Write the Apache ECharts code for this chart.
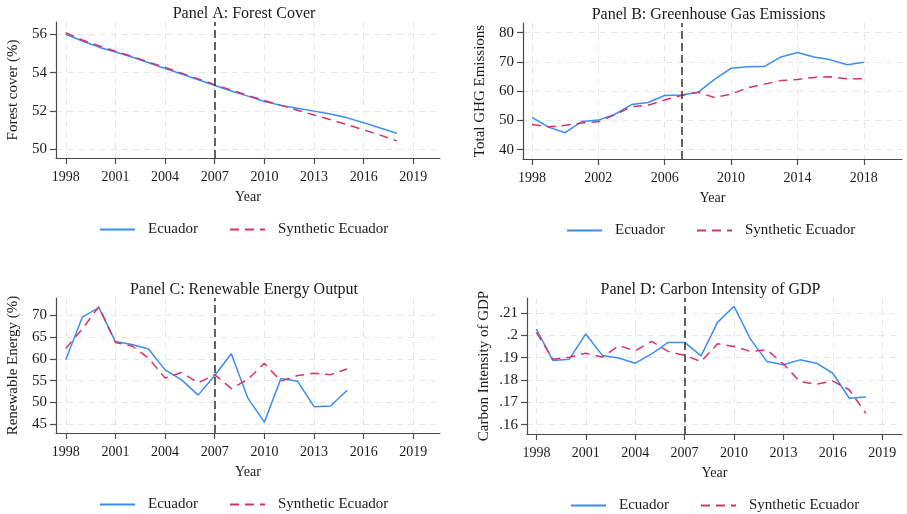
<!DOCTYPE html>
<html>
<head>
<meta charset="utf-8">
<script src="https://cdn.jsdelivr.net/npm/echarts@6/dist/echarts.min.js"></script>
<style>
  html, body { margin: 0; background: #fff; }
  #chart { width: 907px; height: 514px; }
</style>
</head>
<body>
<div id="chart"></div>
<script>
// years shared by every panel
const years = [1998, 1999, 2000, 2001, 2002, 2003, 2004, 2005, 2006, 2007, 2008,
  2009, 2010, 2011, 2012, 2013, 2014, 2015, 2016, 2017, 2018];

// Panel A: forest cover (%)
const forestEcuador = [56.0, 55.65, 55.33, 55.08, 54.82, 54.52, 54.22, 53.93, 53.63, 53.33, 53.05,
  52.78, 52.5, 52.3, 52.15, 52.0, 51.85, 51.65, 51.4, 51.12, 50.85];
const forestSynth = [56.08, 55.7, 55.4, 55.12, 54.85, 54.56, 54.27, 53.98, 53.68, 53.38, 53.1,
  52.82, 52.55, 52.3, 52.05, 51.8, 51.55, 51.3, 51.02, 50.75, 50.45];

// Panel B: total GHG emissions
const ghgEcuador = [51.0, 47.7, 45.8, 49.6, 50.1, 52.1, 55.4, 56.1, 58.5, 58.7, 59.6,
  64.0, 67.8, 68.3, 68.4, 71.7, 73.2, 71.7, 70.7, 69.0, 69.9];
const ghgSynth = [48.6, 47.8, 48.3, 49.1, 49.5, 51.9, 54.7, 55.2, 57.0, 58.5, 59.6,
  57.8, 59.0, 61.1, 62.4, 63.6, 64.0, 64.7, 64.9, 64.2, 64.2];

// Panel C: renewable energy (%), 1998-2015
const renewEcuador = [59.8, 69.6, 71.8, 64.0, 63.3, 62.3, 57.5, 55.2, 51.7, 56.2, 61.2,
  51.0, 45.5, 55.5, 54.9, 49.05, 49.2, 52.8];
const renewSynth = [62.4, 66.9, 72.0, 63.8, 63.0, 60.2, 55.6, 56.9, 54.5, 56.4, 53.2,
  55.3, 59.0, 54.9, 56.2, 56.7, 56.4, 57.7];

// Panel D: carbon intensity of GDP
const carbonEcuador = [0.2028, 0.1887, 0.1893, 0.2006, 0.1910, 0.1898, 0.1875, 0.1917, 0.1968, 0.1968, 0.1908,
  0.2058, 0.2130, 0.1983, 0.1883, 0.1868, 0.1890, 0.1875, 0.1830, 0.1718, 0.1724];
const carbonSynth = [0.2013, 0.1893, 0.1902, 0.1920, 0.1902, 0.1953, 0.1931, 0.1973, 0.1928, 0.1910, 0.1883,
  0.1962, 0.1950, 0.1928, 0.1935, 0.1871, 0.1793, 0.1781, 0.1795, 0.1756, 0.1651];

// tick values
const yearTicks3 = [1998, 2001, 2004, 2007, 2010, 2013, 2016, 2019];
const yearTicks4 = [1998, 2002, 2006, 2010, 2014, 2018];
const forestTicks = [50, 52, 54, 56];
const ghgTicks = [40, 50, 60, 70, 80];
const renewTicks = [45, 50, 55, 60, 65, 70];
const carbonTicks = [0.16, 0.17, 0.18, 0.19, 0.2, 0.21];

const treatYear = 2007;

const font = 'Liberation Serif';
const axisColor = '#4a4a4a';
const textColor = '#1a1a1a';
const blue = '#3a8ef0';
const red = '#d6336c';

const panels = [
  { title: 'Panel A: Forest Cover', yName: 'Forest cover (%)',
    grid: { left: 56, top: 22, width: 384, height: 136 },
    x: [1997.41, 2020.61], xTicks: yearTicks3, y: [49.56, 56.64], yTicks: forestTicks,
    a: forestEcuador, b: forestSynth },
  { title: 'Panel B: Greenhouse Gas Emissions', yName: 'Total GHG Emissions',
    grid: { left: 523, top: 23, width: 379, height: 136 },
    x: [1997.46, 2020.3], xTicks: yearTicks4, y: [36.8, 83.3], yTicks: ghgTicks,
    a: ghgEcuador, b: ghgSynth },
  { title: 'Panel C: Renewable Energy Output', yName: 'Renewable Energy (%)',
    grid: { left: 56, top: 298, width: 384, height: 135 },
    x: [1997.41, 2020.61], xTicks: yearTicks3, y: [43.0, 74.0], yTicks: renewTicks,
    a: renewEcuador, b: renewSynth },
  { title: 'Panel D: Carbon Intensity of GDP', yName: 'Carbon Intensity of GDP',
    grid: { left: 527, top: 298, width: 375, height: 136 },
    x: [1997.43, 2020.2], xTicks: yearTicks3, y: [0.1558, 0.2167], yTicks: carbonTicks,
    a: carbonEcuador, b: carbonSynth }
];

const gridLine = { show: true, lineStyle: { color: '#e6e6e6', type: [6, 5], width: 1 } };

const pairs = (vals) => vals.map((v, i) => [years[i], v]);

const option = {
  animation: false,
  backgroundColor: '#fff',
  title: panels.map(p => ({
    text: p.title,
    left: p.grid.left + p.grid.width / 2 - 4,
    top: p.grid.top - 16,
    padding: 0,
    textAlign: 'center',
    textStyle: { fontFamily: font, fontSize: 16, fontWeight: 'normal', color: textColor }
  })),
  legend: panels.map(p => ({
    data: ['Ecuador', 'Synthetic Ecuador'],
    left: p.grid.left + 43,
    top: p.grid.top + p.grid.height + 64,
    padding: 0,
    itemWidth: 35,
    itemHeight: 12,
    itemGap: 31,
    itemStyle: { opacity: 0 },
    textStyle: { fontFamily: font, fontSize: 15, color: textColor, padding: [0, 0, 0, 8] }
  })),
  grid: panels.map(p => Object.assign({ containLabel: false }, p.grid)),
  xAxis: panels.map((p, i) => ({
    type: 'value', gridIndex: i, min: p.x[0], max: p.x[1],
    name: 'Year', nameLocation: 'middle', nameGap: 32,
    nameTextStyle: { fontFamily: font, fontSize: 14, color: textColor },
    axisLine: { onZero: false, lineStyle: { color: axisColor, width: 1.2 } },
    axisTick: { customValues: p.xTicks, length: 6, lineStyle: { color: axisColor, width: 1.2 } },
    axisLabel: {
      customValues: p.xTicks, margin: 12, fontFamily: font, fontSize: 14, color: textColor,
      formatter: v => String(v)
    },
    splitLine: gridLine
  })),
  yAxis: panels.map((p, i) => ({
    type: 'value', gridIndex: i, min: p.y[0], max: p.y[1],
    name: p.yName, nameLocation: 'middle', nameGap: 35,
    nameTextStyle: { fontFamily: font, fontSize: 15, color: textColor },
    axisLine: { show: true, onZero: false, lineStyle: { color: axisColor, width: 1.2 } },
    axisTick: { show: true, customValues: p.yTicks, length: 6, lineStyle: { color: axisColor, width: 1.2 } },
    axisLabel: {
      customValues: p.yTicks, margin: 9, fontFamily: font, fontSize: 15, color: textColor,
      formatter: v => String(+v.toFixed(4)).replace(/^0\./, '.')
    },
    splitLine: gridLine
  })),
  series: panels.flatMap((p, i) => [
    {
      name: 'Ecuador', type: 'line', xAxisIndex: i, yAxisIndex: i,
      data: pairs(p.a), symbol: 'none', showSymbol: false,
      lineStyle: { color: blue, width: 1.5 }, itemStyle: { color: blue },
      markLine: {
        silent: true, symbol: 'none', label: { show: false },
        lineStyle: { color: '#3d3d3d', type: [8, 4], width: 1.6 },
        data: [{ xAxis: treatYear }]
      }
    },
    {
      name: 'Synthetic Ecuador', type: 'line', xAxisIndex: i, yAxisIndex: i,
      data: pairs(p.b), symbol: 'none', showSymbol: false,
      lineStyle: { color: red, width: 1.5, type: [9, 6] }, itemStyle: { color: red }
    }
  ])
};

const chart = echarts.init(document.getElementById('chart'));
chart.setOption(option);
</script>
</body>
</html>
